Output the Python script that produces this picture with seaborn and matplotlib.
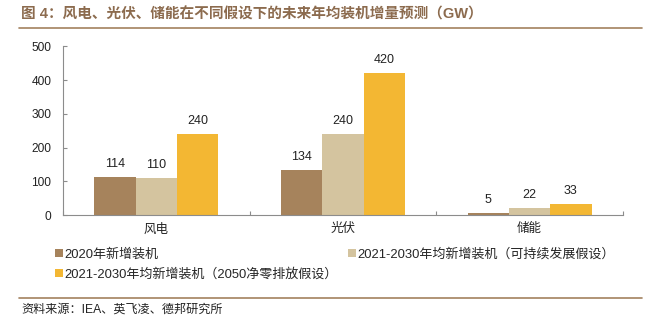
import matplotlib
matplotlib.use("Agg")
import matplotlib.pyplot as plt
from matplotlib.lines import Line2D
from matplotlib.ticker import FixedLocator
import seaborn as sns
import pandas as pd

categories = ["风电", "光伏", "储能"]
series_names = [
    "2020年新增装机",
    "2021-2030年均新增装机（可持续发展假设）",
    "2021-2030年均新增装机（2050净零排放假设）",
]
added_2020 = [114, 134, 5]
avg_sustainable = [110, 240, 22]
avg_net_zero = [240, 420, 33]
y_ticks = [0, 100, 200, 300, 400, 500]

colors = ["#A6835C", "#D4C49F", "#F3B733"]

sns.set_theme(style="white")
plt.rcParams["font.family"] = ["Liberation Sans", "Noto Sans CJK SC"]

rows = []
for name, vals in zip(series_names, [added_2020, avg_sustainable, avg_net_zero]):
    for cat, v in zip(categories, vals):
        rows.append({"类别": cat, "系列": name, "装机": v})
df = pd.DataFrame(rows)

fig = plt.figure(figsize=(6.62, 3.25), dpi=100)
ax = fig.add_axes([63 / 662, 1 - 215 / 325, 560 / 662, 168.7 / 325])

sns.barplot(data=df, x="类别", y="装机", hue="系列", hue_order=series_names,
            order=categories, palette=colors, width=0.663, saturation=1,
            linewidth=0, ax=ax)

# value labels above each bar
for container in ax.containers:
    ax.bar_label(container, fmt="%d", padding=5, fontsize=9, color="#222222")

ax.set_ylim(0, 500)
ax.set_xlim(-0.5, 2.5)
ax.set_yticks(y_ticks)
ax.set_xlabel("")
ax.set_ylabel("")

for side in ["top", "right"]:
    ax.spines[side].set_visible(False)
for side in ["left", "bottom"]:
    ax.spines[side].set_color("#8C8C8C")
    ax.spines[side].set_linewidth(0.8)

ax.tick_params(axis="y", direction="in", length=3, width=0.8, color="#8C8C8C",
               pad=8.5, labelsize=8.6, labelcolor="#222222", left=True)
ax.tick_params(axis="x", which="major", length=0, pad=6, labelsize=9,
               labelcolor="#222222")
ax.xaxis.set_minor_locator(FixedLocator([-0.5, 0.5, 1.5, 2.5]))
ax.tick_params(axis="x", which="minor", direction="in", length=3, width=0.8,
               color="#8C8C8C", bottom=True)

# legend below the plot
handles, labels = ax.get_legend_handles_labels()
ax.get_legend().remove()
order = [0, 2, 1]
fig.legend([handles[i] for i in order], [labels[i] for i in order],
           loc="upper left", bbox_to_anchor=(55 / 662, 1 - 248 / 325),
           ncol=2, frameon=False, fontsize=9.4, handlelength=0.6,
           handleheight=0.6, handletextpad=0.15, columnspacing=0.75,
           labelspacing=0.55, borderpad=0, borderaxespad=0)

# title and rules
title_color = "#8C6B4E"
rule_color = "#A3825F"
fig.text(21 / 662, 1 - 14 / 325,
         "图 4：风电、光伏、储能在不同假设下的未来年均装机增量预测（GW）",
         fontsize=10.5, fontweight="bold", color=title_color, va="center", ha="left")
fig.add_artist(Line2D([19 / 662, 642 / 662], [1 - 27.5 / 325, 1 - 27.5 / 325],
                      color=rule_color, linewidth=1.2, transform=fig.transFigure))
fig.add_artist(Line2D([19 / 662, 642 / 662], [1 - 297.5 / 325, 1 - 297.5 / 325],
                      color=rule_color, linewidth=1.2, transform=fig.transFigure))
fig.text(21 / 662, 1 - 310 / 325, "资料来源：IEA、英飞凌、德邦研究所",
         fontsize=8.7, color="#222222", va="center", ha="left")

fig.savefig("out.png", dpi=100)
